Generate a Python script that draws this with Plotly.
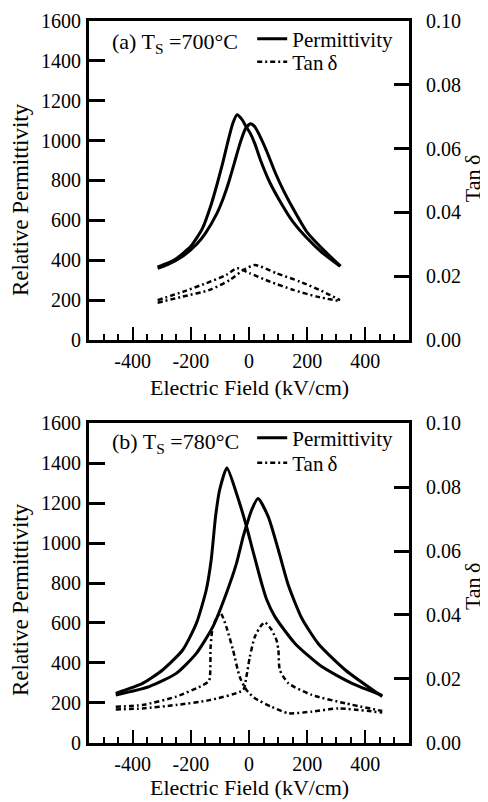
import plotly.graph_objects as go

FONT = "Times New Roman"

# ---------------- Panel (a): Ts = 700 C ----------------
a_perm_up_x = [-314, -280, -250, -200, -160, -130, -110, -90, -70, -55, -41, -25, -10, 5, 20, 40, 70, 105, 150, 200, 250, 313]
a_perm_up_v = [366, 385, 408, 470, 560, 680, 780, 890, 1010, 1090, 1130, 1108, 1070, 1035, 985, 900, 795, 700, 595, 510, 440, 370]
a_perm_dn_x = [-314, -280, -228, -180, -150, -112, -90, -70, -50, -30, -12, 5, 20, 35, 60, 90, 120, 140, 200, 268, 315]
a_perm_dn_v = [360, 378, 420, 480, 535, 630, 705, 790, 890, 990, 1060, 1085, 1070, 1030, 950, 840, 745, 690, 540, 435, 370]
a_tan_up_x = [-314, -228, -147, -78, -41, 3, 72, 152, 233, 310]
a_tan_up_v = [0.0125, 0.0151, 0.0178, 0.0204, 0.0225, 0.0209, 0.0183, 0.0157, 0.0136, 0.0122]
a_tan_dn_x = [-314, -228, -135, -66, -20, 20, 95, 175, 256, 313]
a_tan_dn_v = [0.0117, 0.0136, 0.0157, 0.0188, 0.0219, 0.0235, 0.0209, 0.0183, 0.0151, 0.0125]

# ---------------- Panel (b): Ts = 780 C ----------------
b_perm_up_x = [-458, -366, -297, -228, -181, -147, -130, -115, -101, -76, -43, -9, 9, 30, 45, 60, 89, 158, 250, 354, 458]
b_perm_up_v = [248, 298, 365, 465, 598, 765, 915, 1132, 1265, 1375, 1248, 1085, 985, 870, 790, 720, 632, 498, 382, 298, 238]
b_perm_dn_x = [-458, -343, -250, -181, -124, -78, -43, -20, -9, 9, 31, 66, 101, 135, 181, 239, 331, 458]
b_perm_dn_v = [240, 282, 348, 448, 582, 748, 898, 1032, 1085, 1165, 1222, 1132, 965, 790, 625, 495, 365, 232]
b_tan_up_x = [-458, -366, -250, -158, -137, -132, -125, -112, -97, -78, -55, -32, -9, 20, 78, 135, 216, 308, 458]
b_tan_up_v = [0.0113, 0.0119, 0.0145, 0.0181, 0.0195, 0.0300, 0.0360, 0.0390, 0.0405, 0.0363, 0.0291, 0.0207, 0.0166, 0.0140, 0.0113, 0.0093, 0.0098, 0.0108, 0.0095]
b_tan_dn_x = [-458, -366, -250, -135, -20, -9, 3, 20, 40, 55, 78, 95, 101, 106, 135, 216, 331, 458]
b_tan_dn_v = [0.0105, 0.0108, 0.0119, 0.0134, 0.0166, 0.0207, 0.0270, 0.0332, 0.0365, 0.0377, 0.0353, 0.0320, 0.0291, 0.0228, 0.0187, 0.0150, 0.0124, 0.0100]

x_tickvals = [-400, -200, 0, 200, 400]
x_ticktext = ["-400", "-200", "0", "200", "400"]
perm_label = "Relative Permittivity"
tan_label = "Tan\u2009\u03b4"
x_label = "Electric Field (kV/cm)"
panel_a_label = "(a) T<sub>S</sub> =700\u00b0C"
panel_b_label = "(b) T<sub>S</sub> =780\u00b0C"

PERM_LINE = dict(color="black", width=3, shape="spline", smoothing=0.6)
TAN_LINE = dict(color="black", width=2.5, dash="5px,3px,2px,3px", shape="spline", smoothing=0.6)

fig = go.Figure()


def add_panel(xa, ya, ya2, leg_p, leg_t, px1, pv1, px2, pv2, tx1, tv1, tx2, tv2):
    fig.add_trace(go.Scatter(x=px1, y=pv1, xaxis=xa, yaxis=ya, mode="lines", line=PERM_LINE,
                             name="Permittivity", legend=leg_p, showlegend=True, hoverinfo="skip"))
    fig.add_trace(go.Scatter(x=px2, y=pv2, xaxis=xa, yaxis=ya, mode="lines", line=PERM_LINE,
                             name="Permittivity", legend=leg_p, showlegend=False, hoverinfo="skip"))
    fig.add_trace(go.Scatter(x=tx1, y=tv1, xaxis=xa, yaxis=ya2, mode="lines", line=TAN_LINE,
                             name=tan_label, legend=leg_t, showlegend=True, hoverinfo="skip"))
    fig.add_trace(go.Scatter(x=tx2, y=tv2, xaxis=xa, yaxis=ya2, mode="lines", line=TAN_LINE,
                             name=tan_label, legend=leg_t, showlegend=False, hoverinfo="skip"))


add_panel("x", "y", "y2", "legend", "legend2", a_perm_up_x, a_perm_up_v, a_perm_dn_x, a_perm_dn_v,
          a_tan_up_x, a_tan_up_v, a_tan_dn_x, a_tan_dn_v)
add_panel("x2", "y3", "y4", "legend3", "legend4", b_perm_up_x, b_perm_up_v, b_perm_dn_x, b_perm_dn_v,
          b_tan_up_x, b_tan_up_v, b_tan_dn_x, b_tan_dn_v)

tickfont = dict(family=FONT, size=20, color="black")


def xaxis(anchor):
    return dict(domain=[0, 1], anchor=anchor, range=[-550, 550], showline=True, linewidth=3,
                linecolor="black", mirror=True, ticks="inside", ticklen=13, tickwidth=2,
                tickcolor="black", tickmode="array", tickvals=x_tickvals, ticktext=x_ticktext,
                minor=dict(tickmode="linear", tick0=0, dtick=50, ticks="inside", ticklen=6,
                           tickwidth=2, tickcolor="black", showgrid=False),
                showgrid=False, zeroline=False, tickfont=tickfont, ticklabelstandoff=1,
                automargin=False)


def yleft(domain, anchor):
    return dict(domain=domain, anchor=anchor, range=[0, 1600], dtick=200, tick0=0,
                showline=True, linewidth=3, linecolor="black", ticks="inside", ticklen=16,
                tickwidth=3, tickcolor="black", showgrid=False, zeroline=False, tickfont=tickfont,
                ticklabelstandoff=1, automargin=False)


def yright(overlay, anchor):
    return dict(overlaying=overlay, anchor=anchor, side="right", range=[0, 0.1], dtick=0.02,
                tick0=0, tickformat=".2f", showline=True, linewidth=3, linecolor="black",
                ticks="inside", ticklen=15, tickwidth=3, tickcolor="black", showgrid=False,
                zeroline=False, tickfont=tickfont, ticklabelstandoff=10, automargin=False)


top_dom = [0.5582, 1.0]
bot_dom = [0.0, 0.4432]

legend_common = dict(font=dict(family=FONT, size=21, color="black"), bgcolor="rgba(0,0,0,0)",
                     borderwidth=0, xanchor="left", yanchor="middle", itemwidth=30,
                     traceorder="normal", itemclick=False, itemdoubleclick=False)

ann = []
title_font = dict(family=FONT, size=22, color="black")
perm_title_font = dict(family=FONT, size=23, color="black")
for yc_perm, yc_tan, yc_x, lab, yc_lab in [
        (0.752, 0.781, 0.4917, panel_a_label, 0.9695),
        (0.198, 0.216, -0.0623, panel_b_label, 0.4155)]:
    ann.append(dict(text=perm_label, x=-0.2156, y=yc_perm, xref="paper", yref="paper",
                    textangle=-90, showarrow=False, font=perm_title_font, xanchor="center", yanchor="middle"))
    ann.append(dict(text=tan_label, x=1.197, y=yc_tan, xref="paper", yref="paper",
                    textangle=-90, showarrow=False, font=title_font, xanchor="center", yanchor="middle"))
    ann.append(dict(text=x_label, x=0.5, y=yc_x, xref="paper", yref="paper",
                    showarrow=False, font=title_font, xanchor="center", yanchor="middle"))
    ann.append(dict(text=lab, x=0.0656, y=yc_lab, xref="paper", yref="paper",
                    showarrow=False, font=dict(family=FONT, size=22, color="black"),
                    xanchor="left", yanchor="middle"))

fig.update_layout(
    width=480, height=794,
    margin=dict(l=81, r=79, t=13, b=59, autoexpand=False),
    paper_bgcolor="white", plot_bgcolor="white",
    font=dict(family=FONT, color="black"),
    xaxis=xaxis("y"),
    yaxis=yleft(top_dom, "x"),
    yaxis2=yright("y", "x"),
    xaxis2=xaxis("y3"),
    yaxis3=yleft(bot_dom, "x2"),
    yaxis4=yright("y3", "x2"),
    legend=dict(x=0.51, y=0.9750, **legend_common),
    legend2=dict(x=0.51, y=0.9432, **legend_common),
    legend3=dict(x=0.51, y=0.4224, **legend_common),
    legend4=dict(x=0.51, y=0.3878, **legend_common),
    annotations=ann,
    showlegend=True,
)

fig.write_html("out.html")
